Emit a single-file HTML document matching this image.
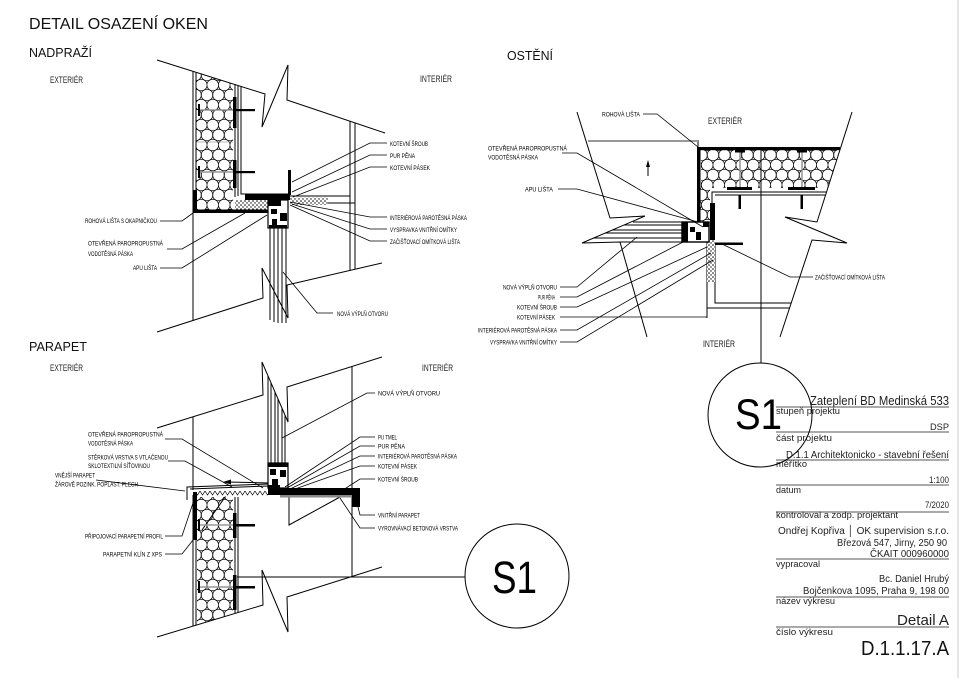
<!DOCTYPE html>
<html><head><meta charset="utf-8">
<style>
html,body{margin:0;padding:0;background:#fff;}
svg{display:block;}
text{font-family:"Liberation Sans",sans-serif;fill:#111;}
.s{font-size:6.5px;fill:#000;}
.m{font-size:9px;fill:#222;}
.tb{font-size:9px;fill:#222;}
</style></head><body>
<svg width="960" height="678" viewBox="0 0 960 678" xmlns="http://www.w3.org/2000/svg">
<defs>
<pattern id="eps" patternUnits="userSpaceOnUse" width="11.5" height="20">
 <circle cx="5.75" cy="5" r="5.8" fill="none" stroke="#000" stroke-width="0.75"/>
 <circle cx="0" cy="15" r="5.8" fill="none" stroke="#000" stroke-width="0.75"/>
 <circle cx="11.5" cy="15" r="5.8" fill="none" stroke="#000" stroke-width="0.75"/>
 <circle cx="5.75" cy="25" r="5.8" fill="none" stroke="#000" stroke-width="0.75"/>
 <circle cx="0" cy="-5" r="5.8" fill="none" stroke="#000" stroke-width="0.75"/>
 <circle cx="11.5" cy="-5" r="5.8" fill="none" stroke="#000" stroke-width="0.75"/>
</pattern>
<pattern id="dot" patternUnits="userSpaceOnUse" width="4" height="4">
 <rect width="4" height="4" fill="#fff"/>
 <circle cx="1" cy="1" r="0.8" fill="#000"/>
 <circle cx="3" cy="3" r="0.7" fill="#000"/>
</pattern>
<pattern id="tri" patternUnits="userSpaceOnUse" width="5" height="7">
 <rect width="5" height="7" fill="#fff"/>
 <path d="M0,1 L2.5,5 L5,1" fill="none" stroke="#000" stroke-width="0.7"/>
</pattern>
</defs>

<!-- right border -->
<line x1="958" y1="0" x2="958" y2="678" stroke="#ccc" stroke-width="1"/>

<!-- Titles -->
<text x="29" y="29" font-size="16" textLength="179" lengthAdjust="spacingAndGlyphs">DETAIL OSAZENÍ OKEN</text>
<text x="29" y="57" font-size="13" textLength="63" lengthAdjust="spacingAndGlyphs">NADPRAŽÍ</text>
<text x="507" y="60" font-size="13" textLength="46" lengthAdjust="spacingAndGlyphs">OSTĚNÍ</text>
<text x="29" y="351" font-size="13" textLength="58" lengthAdjust="spacingAndGlyphs">PARAPET</text>

<!-- ================= NADPRAŽÍ ================= -->
<polygon points="196,72.3 233,84 233,210 196,210" fill="url(#eps)"/>
<g fill="none" stroke="#000" stroke-width="1">
 <polyline points="157,60 265,94 262,127 288,65 287,100 385,133"/>
 <polyline points="157,332 263,298 262,268 288,318 287,285 382,263"/>
 <line x1="193" y1="71" x2="193" y2="321"/>
 <line x1="196" y1="72" x2="196" y2="210"/>
 <line x1="235" y1="84" x2="235" y2="197"/>
 <line x1="238" y1="85" x2="238" y2="196"/>
 <polyline points="241,86 241,194 290,194"/>
 <line x1="290" y1="196" x2="350" y2="196"/>
 <line x1="350" y1="121" x2="350" y2="270"/>
 <line x1="355" y1="123" x2="355" y2="269"/>
 <line x1="328" y1="203" x2="355" y2="203"/>
 <line x1="270" y1="228" x2="270" y2="320"/>
 <line x1="274" y1="228" x2="274" y2="322"/>
 <line x1="278" y1="228" x2="278" y2="323"/>
 <line x1="282" y1="228" x2="282" y2="323"/>
 <line x1="286" y1="228" x2="286" y2="323"/>
</g>
<g stroke="#999" stroke-width="1.6">
 <line x1="198" y1="110" x2="233" y2="110"/>
 <line x1="198" y1="172" x2="233" y2="172"/>
</g>
<line x1="196" y1="142" x2="233" y2="142" stroke="#777" stroke-width="0.6"/>
<g fill="#000">
 <rect x="198" y="104" width="2" height="12"/>
 <rect x="198" y="166" width="2" height="12"/>
 <rect x="233" y="97" width="3.5" height="31"/>
 <rect x="233" y="160" width="3.5" height="28"/>
 <rect x="236" y="109" width="19" height="2.2"/>
 <rect x="236" y="171" width="19" height="2.2"/>
 <rect x="193" y="190" width="4" height="23"/>
 <rect x="193" y="209.5" width="75" height="3.5"/>
 <rect x="245" y="194.5" width="45" height="5.5"/>
 <rect x="288" y="170" width="3" height="25"/>
</g>
<rect x="235" y="200" width="33" height="9.5" fill="url(#dot)"/>
<rect x="290" y="197.5" width="38" height="7.5" fill="url(#dot)"/>
<rect x="268" y="200" width="20" height="28" fill="#fff" stroke="#000" stroke-width="1.2"/>
<g fill="#000">
 <rect x="268" y="200" width="13" height="6"/>
 <rect x="271" y="209" width="6" height="5"/>
 <rect x="280" y="213" width="7" height="8"/>
 <rect x="272" y="219" width="5" height="6"/>
 <rect x="269" y="225" width="18" height="3"/>
</g>
<!-- NADPRAŽÍ labels -->
<text class="m" x="50" y="83" textLength="33" lengthAdjust="spacingAndGlyphs">EXTERIÉR</text>
<text class="m" x="420" y="82" textLength="32" lengthAdjust="spacingAndGlyphs">INTERIÉR</text>
<text class="s" x="85" y="223" textLength="72" lengthAdjust="spacingAndGlyphs">ROHOVÁ LIŠTA S OKAPNIČKOU</text>
<text class="s" x="88" y="245.5" textLength="75" lengthAdjust="spacingAndGlyphs">OTEVŘENÁ PAROPROPUSTNÁ</text>
<text class="s" x="88" y="256" textLength="45" lengthAdjust="spacingAndGlyphs">VODOTĚSNÁ PÁSKA</text>
<text class="s" x="133" y="270" textLength="24" lengthAdjust="spacingAndGlyphs">APU LIŠTA</text>
<text class="s" x="390" y="146" textLength="38" lengthAdjust="spacingAndGlyphs">KOTEVNÍ ŠROUB</text>
<text class="s" x="390" y="158" textLength="25" lengthAdjust="spacingAndGlyphs">PUR PĚNA</text>
<text class="s" x="390" y="170" textLength="40" lengthAdjust="spacingAndGlyphs">KOTEVNÍ PÁSEK</text>
<text class="s" x="390" y="220" textLength="77" lengthAdjust="spacingAndGlyphs">INTERIÉROVÁ PAROTĚSNÁ PÁSKA</text>
<text class="s" x="390" y="232" textLength="67" lengthAdjust="spacingAndGlyphs">VYSPRAVKA VNITŘNÍ OMÍTKY</text>
<text class="s" x="390" y="244" textLength="70" lengthAdjust="spacingAndGlyphs">ZAČIŠŤOVACÍ OMÍTKOVÁ LIŠTA</text>
<text class="s" x="337" y="316" textLength="51" lengthAdjust="spacingAndGlyphs">NOVÁ VÝPLŇ OTVORU</text>
<g fill="none" stroke="#000" stroke-width="0.8">
 <polyline points="160,221 182,221 193,213"/>
 <polyline points="167,249 182,249 245,213"/>
 <polyline points="160,268 182,268 267,215"/>
 <polyline points="387,143 370,143 292,182"/>
 <polyline points="387,155 370,155 292,192"/>
 <polyline points="387,167 370,167 293,197"/>
 <polyline points="387,217 370,217 290,202"/>
 <polyline points="387,229 370,229 292,204"/>
 <polyline points="387,241 370,241 290,205"/>
 <polyline points="333,313 317,313 283,272"/>
</g>

<!-- ================= PARAPET ================= -->
<polygon points="197,497 233,497 233,614 197,625" fill="url(#eps)"/>
<g fill="none" stroke="#000" stroke-width="1">
 <polyline points="157,428 263,395 262,362 288,422 287,387 382,357"/>
 <polyline points="157,637 263,605 262,570 288,632 287,597 382,567"/>
 <line x1="193" y1="417" x2="193" y2="490"/>
 <line x1="193" y1="495" x2="193" y2="626"/>
 <line x1="196" y1="495" x2="196" y2="625"/>
 <line x1="235" y1="497" x2="235" y2="613"/>
 <line x1="238" y1="497" x2="238" y2="612.5"/>
 <line x1="352" y1="366" x2="352" y2="577"/>
 <line x1="237" y1="577" x2="465" y2="577"/>
 <line x1="268" y1="376" x2="268" y2="463"/>
 <line x1="271" y1="383" x2="271" y2="463"/>
 <line x1="275" y1="392" x2="275" y2="463"/>
 <line x1="278" y1="399" x2="278" y2="463"/>
 <line x1="282" y1="408" x2="282" y2="463"/>
 <line x1="285" y1="415" x2="285" y2="463"/>
 <polyline points="187,500 187,487 268,484"/>
 <line x1="190" y1="489" x2="268" y2="486"/>
 <polyline points="289,497 289,525 340,497"/>
 <line x1="228" y1="482" x2="268" y2="483"/>
 <line x1="230" y1="490" x2="202" y2="530"/>
</g>
<polygon points="223,482 231,479.5 231,484.5" fill="#000"/>
<g stroke="#999" stroke-width="1.6">
 <line x1="199" y1="525" x2="233" y2="525"/>
 <line x1="199" y1="587" x2="233" y2="587"/>
</g>
<rect x="197" y="490" width="71" height="6.5" fill="url(#tri)"/>
<g fill="#000">
 <rect x="198" y="519" width="2" height="12"/>
 <rect x="198" y="581" width="2" height="12"/>
 <rect x="233" y="513" width="3.5" height="25"/>
 <rect x="233" y="575" width="3.5" height="35"/>
 <rect x="236" y="524" width="19" height="2.5"/>
 <rect x="236" y="586" width="19" height="2.5"/>
 <rect x="193" y="492" width="4" height="48"/>
 <rect x="268" y="488" width="92" height="7"/>
 <rect x="352" y="488" width="8" height="19"/>
</g>
<rect x="280" y="495" width="72" height="2.5" fill="#888"/>
<rect x="268" y="463" width="20" height="25" fill="#fff" stroke="#000" stroke-width="1.2"/>
<g fill="#000">
 <rect x="268" y="463" width="20" height="4"/>
 <rect x="270" y="469" width="6" height="6"/>
 <rect x="280" y="470" width="6" height="7"/>
 <rect x="272" y="479" width="6" height="6"/>
 <rect x="268" y="485" width="12" height="3"/>
</g>
<!-- PARAPET labels -->
<text class="m" x="50" y="371" textLength="33" lengthAdjust="spacingAndGlyphs">EXTERIÉR</text>
<text class="m" x="422" y="371" textLength="31" lengthAdjust="spacingAndGlyphs">INTERIÉR</text>
<text class="s" x="88" y="436.5" textLength="75" lengthAdjust="spacingAndGlyphs">OTEVŘENÁ PAROPROPUSTNÁ</text>
<text class="s" x="88" y="445.5" textLength="45" lengthAdjust="spacingAndGlyphs">VODOTĚSNÁ PÁSKA</text>
<text class="s" x="88" y="459.5" textLength="80" lengthAdjust="spacingAndGlyphs">STĚRKOVÁ VRSTVA S VTLAČENOU</text>
<text class="s" x="88" y="468" textLength="62" lengthAdjust="spacingAndGlyphs">SKLOTEXTILNÍ SÍŤOVINOU</text>
<text class="s" x="55" y="477.5" textLength="40" lengthAdjust="spacingAndGlyphs">VNĚJŠÍ PARAPET</text>
<text class="s" x="55" y="486.5" textLength="83" lengthAdjust="spacingAndGlyphs">ŽÁROVĚ POZINK. POPLAST. PLECH</text>
<text class="s" x="85" y="538.5" textLength="78" lengthAdjust="spacingAndGlyphs">PŘIPOJOVACÍ PARAPETNÍ PROFIL</text>
<text class="s" x="103" y="556.5" textLength="59" lengthAdjust="spacingAndGlyphs">PARAPETNÍ KLÍN Z XPS</text>
<text class="s" x="378" y="395.5" textLength="62" lengthAdjust="spacingAndGlyphs">NOVÁ VÝPLŇ OTVORU</text>
<text class="s" x="378" y="439.5" textLength="19" lengthAdjust="spacingAndGlyphs">PU TMEL</text>
<text class="s" x="378" y="448.5" textLength="27" lengthAdjust="spacingAndGlyphs">PUR PĚNA</text>
<text class="s" x="378" y="458.5" textLength="79" lengthAdjust="spacingAndGlyphs">INTERIÉROVÁ PAROTĚSNÁ PÁSKA</text>
<text class="s" x="378" y="468.5" textLength="39" lengthAdjust="spacingAndGlyphs">KOTEVNÍ PÁSEK</text>
<text class="s" x="378" y="481.5" textLength="40" lengthAdjust="spacingAndGlyphs">KOTEVNÍ ŠROUB</text>
<text class="s" x="378" y="517.5" textLength="42" lengthAdjust="spacingAndGlyphs">VNITŘNÍ PARAPET</text>
<text class="s" x="378" y="530.5" textLength="80" lengthAdjust="spacingAndGlyphs">VYROVNÁVACÍ BETONOVÁ VRSTVA</text>
<g fill="none" stroke="#000" stroke-width="0.8">
 <polyline points="165,439 182,439 263,488"/>
 <polyline points="168,461 185,461 232,487"/>
 <polyline points="96,480 185,491"/>
 <polyline points="165,536 182,536 193,503"/>
 <polyline points="165,554 182,554 193,540"/>
 <polyline points="375,393 367,393 282,438"/>
 <polyline points="375,437 360,437 285,487"/>
 <polyline points="375,446 360,446 287,488"/>
 <polyline points="375,456 360,456 290,489"/>
 <polyline points="375,466 360,466 295,489"/>
 <polyline points="375,479 360,479 343,490"/>
 <polyline points="375,515 360,515 358,507"/>
 <polyline points="375,528 360,528 340,498"/>
</g>
<!-- S1 bottom -->
<circle cx="517" cy="576" r="52" fill="none" stroke="#000" stroke-width="1"/>
<text x="492" y="593" font-size="45" textLength="45" lengthAdjust="spacingAndGlyphs" style="fill:#000">S1</text>

<!-- ================= OSTĚNÍ ================= -->
<polygon points="701,150 840,150 827,188 701,188" fill="url(#eps)"/>
<rect x="700" y="188" width="10" height="34" fill="url(#eps)"/>
<g fill="none" stroke="#000" stroke-width="1">
 <polyline points="852,112 817,222 785,217 847,243 812,240 780,337"/>
 <polyline points="577,112 610,218 645,216 582,243 620,242 647,337"/>
 <polyline points="712,203 712,192 826,192"/>
 <line x1="715" y1="195" x2="825" y2="195"/>
 <line x1="761" y1="150" x2="761" y2="363"/>
 <polyline points="715,245 715,303 791,303"/>
 <line x1="707" y1="240" x2="707" y2="318"/>
 <line x1="707" y1="308" x2="790" y2="308"/>
 <line x1="698" y1="140" x2="698" y2="148"/>
 <line x1="633" y1="222" x2="682" y2="222"/>
 <line x1="624" y1="225" x2="682" y2="225"/>
 <line x1="612" y1="230" x2="682" y2="230"/>
 <line x1="605" y1="233" x2="682" y2="233"/>
 <line x1="593" y1="238" x2="682" y2="238"/>
 <line x1="620" y1="242" x2="690" y2="242"/>
 <line x1="648" y1="176" x2="648" y2="165"/>
</g>
<polygon points="648,160 646,167 650,167" fill="#000"/>
<rect x="588" y="140" width="110" height="2" fill="#999"/>
<g stroke="#999" stroke-width="1.6">
 <line x1="740" y1="150" x2="740" y2="187"/>
 <line x1="802" y1="150" x2="802" y2="187"/>
</g>
<g fill="#000">
 <rect x="697" y="147" width="143" height="3.2"/>
 <rect x="697" y="147" width="3.5" height="77"/>
 <rect x="727" y="187" width="25" height="3"/>
 <rect x="788" y="187" width="27" height="3"/>
 <rect x="738.5" y="195" width="2.5" height="14"/>
 <rect x="800.5" y="195" width="2.5" height="14"/>
 <rect x="735" y="150" width="10" height="2.5"/>
 <rect x="797" y="150" width="10" height="2.5"/>
 <rect x="710" y="203" width="5" height="42"/>
 <rect x="715" y="242.5" width="28" height="2.5"/>
</g>
<rect x="707" y="240" width="8" height="42" fill="url(#dot)"/>
<rect x="682" y="222" width="27" height="20" fill="#fff" stroke="#000" stroke-width="1.4"/>
<g fill="#000">
 <rect x="682" y="222" width="6" height="20"/>
 <rect x="690" y="227" width="5" height="5"/>
 <rect x="696" y="232" width="5" height="8"/>
 <rect x="703" y="222" width="6" height="5"/>
</g>
<!-- OSTĚNÍ labels -->
<text class="m" x="708" y="124" textLength="34" lengthAdjust="spacingAndGlyphs">EXTERIÉR</text>
<text class="m" x="703" y="347" textLength="32" lengthAdjust="spacingAndGlyphs">INTERIÉR</text>
<text class="s" x="602" y="116.5" textLength="38" lengthAdjust="spacingAndGlyphs">ROHOVÁ LIŠTA</text>
<text class="s" x="488" y="150.5" textLength="79" lengthAdjust="spacingAndGlyphs">OTEVŘENÁ PAROPROPUSTNÁ</text>
<text class="s" x="488" y="159.5" textLength="50" lengthAdjust="spacingAndGlyphs">VODOTĚSNÁ PÁSKA</text>
<text class="s" x="525" y="191.5" textLength="28" lengthAdjust="spacingAndGlyphs">APU LIŠTA</text>
<text class="s" x="503" y="289.5" textLength="54" lengthAdjust="spacingAndGlyphs">NOVÁ VÝPLŇ OTVORU</text>
<text class="s" x="538" y="299.5" textLength="17" lengthAdjust="spacingAndGlyphs">PUR PĚNA</text>
<text class="s" x="517" y="309.5" textLength="40" lengthAdjust="spacingAndGlyphs">KOTEVNÍ ŠROUB</text>
<text class="s" x="517" y="319.5" textLength="38" lengthAdjust="spacingAndGlyphs">KOTEVNÍ PÁSEK</text>
<text class="s" x="478" y="332.5" textLength="79" lengthAdjust="spacingAndGlyphs">INTERIÉROVÁ PAROTĚSNÁ PÁSKA</text>
<text class="s" x="490" y="344.5" textLength="67" lengthAdjust="spacingAndGlyphs">VYSPRAVKA VNITŘNÍ OMÍTKY</text>
<text class="s" x="815" y="279.5" textLength="70" lengthAdjust="spacingAndGlyphs">ZAČIŠŤOVACÍ OMÍTKOVÁ LIŠTA</text>
<g fill="none" stroke="#000" stroke-width="0.8">
 <polyline points="643,114 657,114 698,147"/>
 <polyline points="562,153 577,153 703,227"/>
 <polyline points="558,189 577,189 698,222"/>
 <polyline points="560,287 577,287 637,237"/>
 <polyline points="560,297 577,297 683,242"/>
 <polyline points="560,307 577,307 707,247"/>
 <polyline points="560,317 707,317"/>
 <polyline points="560,330 577,330 711,253"/>
 <polyline points="560,342 577,342 713,260"/>
 <polyline points="813,277 790,277 722,244"/>
</g>

<!-- ================= TITLE BLOCK ================= -->
<g stroke="#777" stroke-width="1.3">
 <line x1="776" y1="407" x2="949" y2="407"/>
 <line x1="776" y1="432" x2="949" y2="432"/>
 <line x1="776" y1="460" x2="949" y2="460"/>
 <line x1="776" y1="485" x2="949" y2="485"/>
 <line x1="776" y1="512" x2="949" y2="512"/>
 <line x1="776" y1="559" x2="949" y2="559"/>
 <line x1="776" y1="597" x2="949" y2="597"/>
 <line x1="776" y1="627" x2="949" y2="627"/>
</g>
<text x="810" y="405" font-size="12.5" textLength="139" lengthAdjust="spacingAndGlyphs" style="fill:#222">Zateplení BD Medinská 533</text>
<text class="tb" x="776" y="414" textLength="64" lengthAdjust="spacingAndGlyphs">stupeň projektu</text>
<text class="tb" x="930" y="430" textLength="19" lengthAdjust="spacingAndGlyphs">DSP</text>
<text class="tb" x="776" y="441" textLength="56" lengthAdjust="spacingAndGlyphs">část projektu</text>
<text x="786" y="458" font-size="10.5" textLength="163" lengthAdjust="spacingAndGlyphs" style="fill:#222">D.1.1 Architektonicko - stavební řešení</text>
<text class="tb" x="776" y="467" textLength="31" lengthAdjust="spacingAndGlyphs">měřítko</text>
<text class="tb" x="929" y="483" textLength="20" lengthAdjust="spacingAndGlyphs">1:100</text>
<text class="tb" x="776" y="493" textLength="25" lengthAdjust="spacingAndGlyphs">datum</text>
<text class="tb" x="925" y="508" textLength="24" lengthAdjust="spacingAndGlyphs">7/2020</text>
<text class="tb" x="776" y="518" textLength="122" lengthAdjust="spacingAndGlyphs">kontroloval a zodp. projektant</text>
<text x="778" y="534" font-size="10" textLength="171" lengthAdjust="spacingAndGlyphs" style="fill:#222">Ondřej Kopřiva │ OK supervision s.r.o.</text>
<text x="837" y="546" font-size="10" textLength="110" lengthAdjust="spacingAndGlyphs" style="fill:#222">Březová 547, Jirny, 250 90</text>
<text x="870" y="557" font-size="10" textLength="79" lengthAdjust="spacingAndGlyphs" style="fill:#222">ČKAIT 000960000</text>
<text class="tb" x="776" y="567" textLength="44" lengthAdjust="spacingAndGlyphs">vypracoval</text>
<text x="879" y="582" font-size="10" textLength="70" lengthAdjust="spacingAndGlyphs" style="fill:#222">Bc. Daniel Hrubý</text>
<text x="803" y="594" font-size="10" textLength="146" lengthAdjust="spacingAndGlyphs" style="fill:#222">Bojčenkova 1095, Praha 9, 198 00</text>
<text class="tb" x="776" y="604" textLength="59" lengthAdjust="spacingAndGlyphs">název výkresu</text>
<text x="897" y="625" font-size="15" textLength="52" lengthAdjust="spacingAndGlyphs" style="fill:#222">Detail A</text>
<text class="tb" x="776" y="635" textLength="57" lengthAdjust="spacingAndGlyphs">číslo výkresu</text>
<text x="861" y="655" font-size="20" textLength="88" lengthAdjust="spacingAndGlyphs" style="fill:#111">D.1.1.17.A</text>

<!-- S1 right circle -->
<circle cx="760" cy="415" r="52" fill="none" stroke="#000" stroke-width="1"/>
<text x="735" y="429" font-size="43" textLength="47" lengthAdjust="spacingAndGlyphs" style="fill:#000">S1</text>
</svg>
</body></html>
